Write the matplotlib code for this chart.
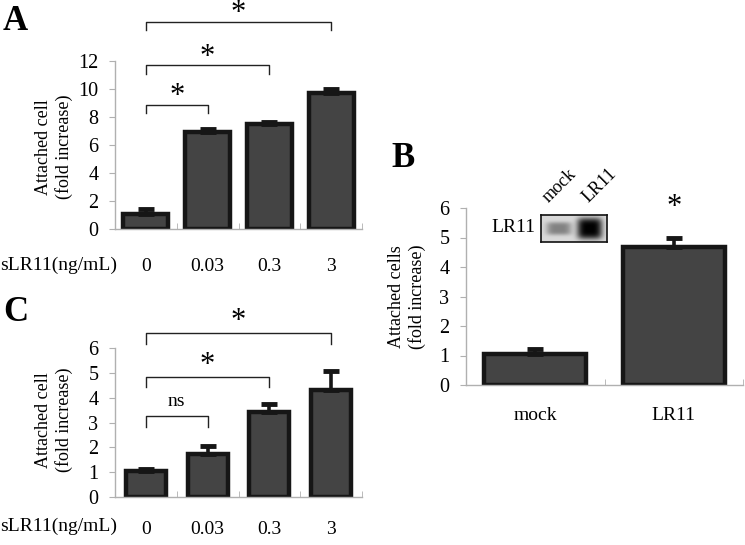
import matplotlib
matplotlib.use('Agg')
import matplotlib.pyplot as plt
import numpy as np

plt.rcParams['font.family'] = ['Liberation Serif', 'DejaVu Serif']

# ---------------- data ----------------
conc_labels = ['0', '0.03', '0.3', '3']
a_values = [1.1, 6.9, 7.5, 9.75]
a_errors = [0.3, 0.25, 0.15, 0.25]
a_yticks = [0, 2, 4, 6, 8, 10, 12]
a_brackets = [(1, 8.86, '*'), (2, 11.7, '*'), (3, 14.8, '*')]

b_labels = ['mock', 'LR11']
b_values = [1.05, 4.68]
b_errors = [0.17, 0.3]
b_yticks = [0, 1, 2, 3, 4, 5, 6]
b_star = '*'

c_values = [1.05, 1.73, 3.41, 4.3]
c_errors = [0.08, 0.34, 0.33, 0.76]
c_yticks = [0, 1, 2, 3, 4, 5, 6]
c_brackets = [(1, 3.25, 'ns'), (2, 4.83, '*'), (3, 6.6, '*')]

blot_lanes = ['mock', 'LR11']
blot_intensity = [0.4, 1.0]

# ---------------- figure ----------------
W, H = 745, 545
fig = plt.figure(figsize=(W / 100, H / 100), dpi=100)


def fx(px):
    return px / W


def fy(py):
    return 1 - py / H


def axes_px(left, top, right, bottom):
    return fig.add_axes([fx(left), fy(bottom), (right - left) / W, (bottom - top) / H])


FACE = '#444444'
EDGE = '#161616'
SPINE = '#b0b0b0'


def draw_bars(ax, values, errors, width, yticks, ylim):
    n = len(values)
    x = np.arange(n)
    ax.bar(x, values, width=width, color=FACE, edgecolor=EDGE, linewidth=3.2, zorder=2)
    ax.errorbar(x, values, yerr=[[0] * n, errors], fmt='none', ecolor=EDGE,
                elinewidth=2.6, capsize=5.5, capthick=3.5, zorder=3)
    ax.set_xlim(-0.5, n - 0.5)
    ax.set_ylim(*ylim)
    for s in ['top', 'right']:
        ax.spines[s].set_visible(False)
    for s in ['left', 'bottom']:
        ax.spines[s].set_color(SPINE)
        ax.spines[s].set_linewidth(1.0)
    ax.set_yticks(yticks)
    ax.tick_params(axis='y', length=4, color=SPINE, labelsize=14.5, pad=8)
    ax.set_xticks(np.arange(n) + 0.5, minor=True)
    ax.tick_params(axis='x', which='minor', direction='in', length=4, color=SPINE)
    return x


def draw_brackets(ax, brackets, leg, star_gap, ns_gap):
    for x2, y, lab in brackets:
        ax.plot([0, 0, x2, x2], [y - leg, y, y, y - leg], color='#222222', lw=1.0,
                clip_on=False, zorder=4)
        if lab == '*':
            ax.text(x2 / 2, y + star_gap, lab, ha='center', va='center', fontsize=22,
                    clip_on=False)
        else:
            ax.text(x2 / 2, y + ns_gap, lab, ha='center', va='center', fontsize=14,
                    clip_on=False)


YLAB = dict(rotation=90, ha='center', va='center', fontsize=13,
            multialignment='center', linespacing=1.2)

# ---------- Panel A ----------
axA = axes_px(115, 61, 362, 229)
xA = draw_bars(axA, a_values, a_errors, 0.73, a_yticks, (0, 12))
axA.set_xticks(xA)
axA.set_xticklabels(conc_labels)
axA.tick_params(axis='x', which='major', length=0, labelsize=14, pad=21)
draw_brackets(axA, a_brackets, 0.6, 0.57, 0.6)
fig.text(fx(0.5), fy(265), 'sLR11(ng/mL)', ha='left', va='center', fontsize=14)
fig.text(fx(54), fy(147), 'Attached cell\n(fold increase)', **YLAB)
fig.text(fx(3), fy(5), 'A', fontsize=25, fontweight='bold', ha='left', va='top')

# ---------- Panel C ----------
axC = axes_px(115, 348, 362, 497)
xC = draw_bars(axC, c_values, c_errors, 0.65, c_yticks, (0, 6))
axC.set_xticks(xC)
axC.set_xticklabels(conc_labels)
axC.tick_params(axis='x', which='major', length=0, labelsize=14, pad=17)
draw_brackets(axC, c_brackets, 0.42, 0.48, 0.58)
fig.text(fx(0.5), fy(526), 'sLR11(ng/mL)', ha='left', va='center', fontsize=14)
fig.text(fx(54), fy(420), 'Attached cell\n(fold increase)', **YLAB)
fig.text(fx(3), fy(296), 'C', fontsize=25, fontweight='bold', ha='left', va='top')

# ---------- Panel B ----------
axB = axes_px(466, 208, 743, 385)
xB = draw_bars(axB, b_values, b_errors, 0.74, b_yticks, (0, 6))
axB.set_xticks(xB)
axB.set_xticklabels(b_labels)
axB.tick_params(axis='x', which='major', length=0, labelsize=14, pad=16)
axB.text(1, 6.0, b_star, ha='center', va='center', fontsize=22, clip_on=False)
fig.text(fx(407), fy(297), 'Attached cells\n(fold increase)', **YLAB)
fig.text(fx(391), fy(142), 'B', fontsize=25, fontweight='bold', ha='left', va='top')

# western blot inset
axI = axes_px(541, 215, 607, 242)
gx = np.linspace(0, 1, 132)
gy = np.linspace(0, 1, 54)
GX, GY = np.meshgrid(gx, gy)
img = np.full_like(GX, 0.85)
centers = [0.27, 0.74]
for c, inten in zip(centers, blot_intensity):
    sig_y = 0.14 + 0.26 * inten
    img -= 0.85 * inten * np.exp(-((GX - c) / 0.19) ** 4) * np.exp(-((GY - 0.5) / sig_y) ** 4)
axI.imshow(np.clip(img, 0, 1), cmap='gray', vmin=0, vmax=1, aspect='auto',
           interpolation='bilinear')
axI.set_xticks([])
axI.set_yticks([])
for s in axI.spines.values():
    s.set_linewidth(1.2)
    s.set_color('#111111')
fig.text(fx(535), fy(228), 'LR11', ha='right', va='center', fontsize=14)
lane_label_px = [549, 589]
for px, lab in zip(lane_label_px, blot_lanes):
    fig.text(fx(px), fy(203), lab, rotation=45, rotation_mode='anchor',
             ha='left', va='baseline', fontsize=13)

fig.savefig('out.png', dpi=100)
